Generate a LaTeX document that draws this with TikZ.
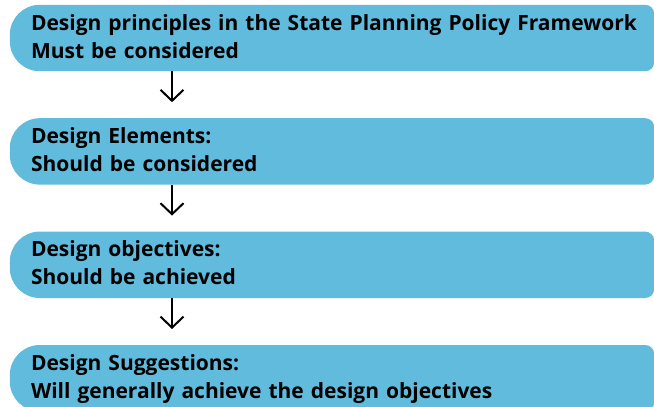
\documentclass[tikz,border=0pt]{standalone}
\usepackage{fontspec}
\setmainfont{Open Sans}
\usetikzlibrary{arrows.meta, positioning, backgrounds}
\definecolor{barblue}{RGB}{96,187,220}

\begin{document}
\begin{tikzpicture}[x=1pt,y=1pt]
	\tikzstyle{StageBar} = [rectangle, minimum height=66pt, inner xsep=0pt, inner ysep=0pt, text width=623pt, align=left, text height=15pt, text depth=31pt, font=\fontsize{21pt}{28pt}\selectfont\bfseries]
	\tikzstyle{BarFill} = [fill=barblue]
	\tikzstyle{arrow} = [line width=2pt, -{Straight Barb[length=11pt, width=23pt]}, shorten >=16pt]
	
	\useasboundingbox (0,0) rectangle (654,-407);
	
	\node (principles) [StageBar] at (342.5,-38) {Design principles in the State Planning Policy Framework\\Must be considered};
	\node (elements) [StageBar, below = 47pt of principles] {Design Elements:\\Should be considered};
	\node (objectives) [StageBar, below = 47pt of elements] {Design objectives:\\Should be achieved};
	\node (suggestions) [StageBar, below = 47pt of objectives] {Design Suggestions:\\Will generally achieve the design objectives};
	
	% bars: big round on the left, small round on the right
	\begin{scope}[on background layer]
		\foreach \n in {principles, elements, objectives, suggestions}
			\fill[BarFill] ([xshift=-9pt]\n.north east) arc[start angle=90, end angle=0, radius=9pt]
				-- ([yshift=9pt]\n.south east) arc[start angle=0, end angle=-90, radius=9pt]
				-- ([xshift=9pt]\n.south west) arc[start angle=270, end angle=180, radius=30pt]
				-- ([xshift=-21pt, yshift=-30pt]\n.north west) arc[start angle=180, end angle=90, radius=30pt]
				-- cycle;
	\end{scope}
	
	\coordinate (col) at (172,0);
	\draw[arrow] (col |- principles.south) -- (col |- elements.north);
	\draw[arrow] (col |- elements.south) -- (col |- objectives.north);
	\draw[arrow] (col |- objectives.south) -- (col |- suggestions.north);
\end{tikzpicture}
\end{document}
